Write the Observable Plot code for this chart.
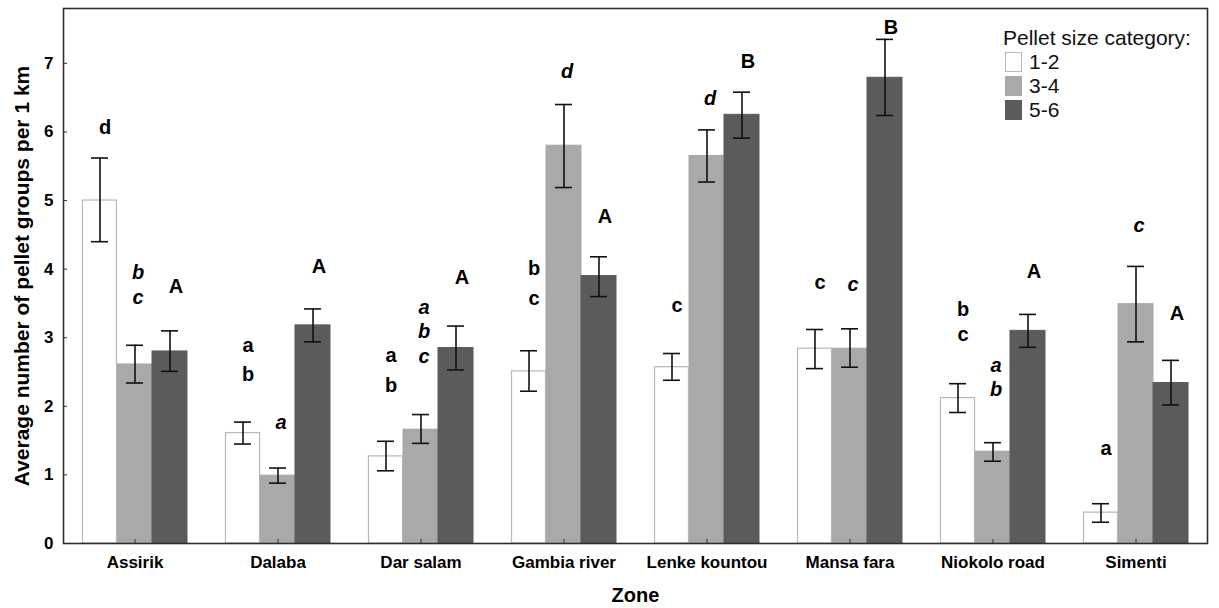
<!DOCTYPE html>
<html>
<head>
<meta charset="utf-8">
<script src="https://cdn.jsdelivr.net/npm/d3@7"></script>
<script src="https://cdn.jsdelivr.net/npm/@observablehq/plot@0.6"></script>
<style>
  html, body { margin: 0; padding: 0; background: #fff; }
  #wrap { position: relative; width: 1219px; height: 608px; font-family: "Liberation Sans", Arial, sans-serif; }
  #legend { position: absolute; left: 1003px; top: 26px; font-size: 21px; color: #111; line-height: 24px; }
  #legend .row { display: flex; align-items: center; }
  #legend .sw { width: 17px; height: 20px; margin: 0 7px 0 2px; box-sizing: border-box; }
</style>
</head>
<body>
<div id="wrap"></div>
<script>
const zones = ["Assirik", "Dalaba", "Dar salam", "Gambia river", "Lenke kountou", "Mansa fara", "Niokolo road", "Simenti"];
const sizes = ["1-2", "3-4", "5-6"];

const mean12 = [5.00, 1.61, 1.27, 2.51, 2.57, 2.84, 2.12, 0.45];
const lo12   = [4.40, 1.45, 1.06, 2.22, 2.38, 2.55, 1.91, 0.31];
const hi12   = [5.62, 1.77, 1.49, 2.81, 2.77, 3.12, 2.33, 0.58];

const mean34 = [2.61, 0.99, 1.66, 5.80, 5.65, 2.84, 1.34, 3.49];
const lo34   = [2.34, 0.88, 1.46, 5.19, 5.27, 2.57, 1.20, 2.94];
const hi34   = [2.89, 1.10, 1.88, 6.40, 6.03, 3.13, 1.47, 4.04];

const mean56 = [2.80, 3.18, 2.85, 3.90, 6.25, 6.79, 3.10, 2.34];
const lo56   = [2.51, 2.94, 2.53, 3.60, 5.91, 6.24, 2.86, 2.02];
const hi56   = [3.10, 3.42, 3.17, 4.18, 6.58, 7.35, 3.34, 2.67];

const yTicks = [0, 1, 2, 3, 4, 5, 6, 7];

// significance letters: zone, size category, letter, height (value units)
const labelZone = ["Assirik","Assirik","Assirik","Assirik",
  "Dalaba","Dalaba","Dalaba","Dalaba",
  "Dar salam","Dar salam","Dar salam","Dar salam","Dar salam","Dar salam",
  "Gambia river","Gambia river","Gambia river","Gambia river",
  "Lenke kountou","Lenke kountou","Lenke kountou",
  "Mansa fara","Mansa fara","Mansa fara",
  "Niokolo road","Niokolo road","Niokolo road","Niokolo road","Niokolo road",
  "Simenti","Simenti","Simenti"];
const labelSize = ["1-2","3-4","3-4","5-6",
  "1-2","1-2","3-4","5-6",
  "1-2","1-2","3-4","3-4","3-4","5-6",
  "1-2","1-2","3-4","5-6",
  "1-2","3-4","5-6",
  "1-2","3-4","5-6",
  "1-2","1-2","3-4","3-4","5-6",
  "1-2","3-4","5-6"];
const labelText = ["d","b","c","A",
  "a","b","a","A",
  "a","b","a","b","c","A",
  "b","c","d","A",
  "c","d","B",
  "c","c","B",
  "b","c","a","b","A",
  "a","c","A"];
const labelY = [6.07,3.95,3.59,3.74,
  2.89,2.46,1.77,4.03,
  2.74,2.30,3.44,3.09,2.73,3.88,
  4.01,3.57,6.88,4.77,
  3.47,6.48,7.02,
  3.80,3.78,7.52,
  3.41,3.04,2.60,2.24,3.97,
  1.39,4.64,3.35];

const series = {"1-2": [mean12, lo12, hi12], "3-4": [mean34, lo34, hi34], "5-6": [mean56, lo56, hi56]};
const bars = [];
for (const s of sizes) {
  zones.forEach((z, i) => bars.push({zone: z, size: s, mean: series[s][0][i], lo: series[s][1][i], hi: series[s][2][i]}));
}
const labels = labelText.map((t, i) => ({zone: labelZone[i], size: labelSize[i], text: t, y: labelY[i]}));

const fills = ["#ffffff", "#a9a9a9", "#5b5b5b"];
const strokes = ["#b8b8b8", "#a9a9a9", "#5b5b5b"];
const font = "'Liberation Sans', Arial, sans-serif";

const chart = Plot.plot({
  width: 1219,
  height: 608,
  marginLeft: 62,
  marginRight: 11,
  marginTop: 8,
  marginBottom: 65,
  style: {fontFamily: font, color: "#000", background: "#fff"},
  fx: {domain: zones, padding: 0},
  x: {domain: sizes, paddingInner: 0, paddingOuter: 0.49, axis: null},
  y: {domain: [0, 7.8]},
  color: {domain: sizes, range: fills},
  marks: [
    Plot.barY(bars, {fx: "zone", x: "size", y: "mean", fill: "size", stroke: "size", strokeWidth: 1}),
    Plot.barY(bars.filter(d => d.size === "1-2"), {fx: "zone", x: "size", y: "mean",
      fill: "#fff", stroke: "#b8b8b8", strokeWidth: 1.2, insetLeft: 0.5, insetRight: 0.5}),
    Plot.ruleX(bars, {fx: "zone", x: "size", y1: "lo", y2: "hi", stroke: "#111", strokeWidth: 1.6}),
    Plot.tickY(bars, {fx: "zone", x: "size", y: "lo", stroke: "#111", strokeWidth: 1.6, insetLeft: 9, insetRight: 9}),
    Plot.tickY(bars, {fx: "zone", x: "size", y: "hi", stroke: "#111", strokeWidth: 1.6, insetLeft: 9, insetRight: 9}),
    Plot.text(labels.filter(d => d.size === "1-2"), {fx: "zone", x: "size", y: "y", text: "text",
      fontSize: 20, fontWeight: "bold", fill: "#000", dx: 5}),
    Plot.text(labels.filter(d => d.size === "3-4"), {fx: "zone", x: "size", y: "y", text: "text",
      fontSize: 20, fontWeight: "bold", fontStyle: "italic", fill: "#000", dx: 3}),
    Plot.text(labels.filter(d => d.size === "5-6"), {fx: "zone", x: "size", y: "y", text: "text",
      fontSize: 20, fontWeight: "bold", fill: "#000", dx: 6}),
    Plot.axisY({ticks: yTicks, tickFormat: d3.format("d"), tickSize: -4, tickPadding: 14,
      fontSize: 17, fontWeight: "bold", label: null, stroke: "#333"}),
    Plot.axisY({ticks: [], tickSize: 0, label: "Average number of pellet groups per 1 km",
      labelAnchor: "center", labelOffset: 49, labelArrow: "none", fontSize: 21, fontWeight: "bold"}),
    Plot.axisFx({anchor: "bottom", tickSize: -4, tickPadding: 16, fontSize: 17, fontWeight: "bold",
      label: null, stroke: "#333"}),
    Plot.axisFx({anchor: "bottom", ticks: [], tickSize: 0, label: "Zone", labelAnchor: "center",
      labelOffset: 58, labelArrow: "none", fontSize: 20, fontWeight: "bold"}),
    Plot.frame({facet: "super", stroke: "#2e2e2e", strokeWidth: 1.6})
  ]
});

const wrap = document.getElementById("wrap");
wrap.appendChild(chart);

const legend = document.createElement("div");
legend.id = "legend";
let html = `<div>Pellet size category:</div>`;
sizes.forEach((s, i) => {
  html += `<div class="row"><div class="sw" style="background:${fills[i]};border:1px solid ${strokes[i]}"></div><span>${s}</span></div>`;
});
legend.innerHTML = html;
wrap.appendChild(legend);
</script>
</body>
</html>
